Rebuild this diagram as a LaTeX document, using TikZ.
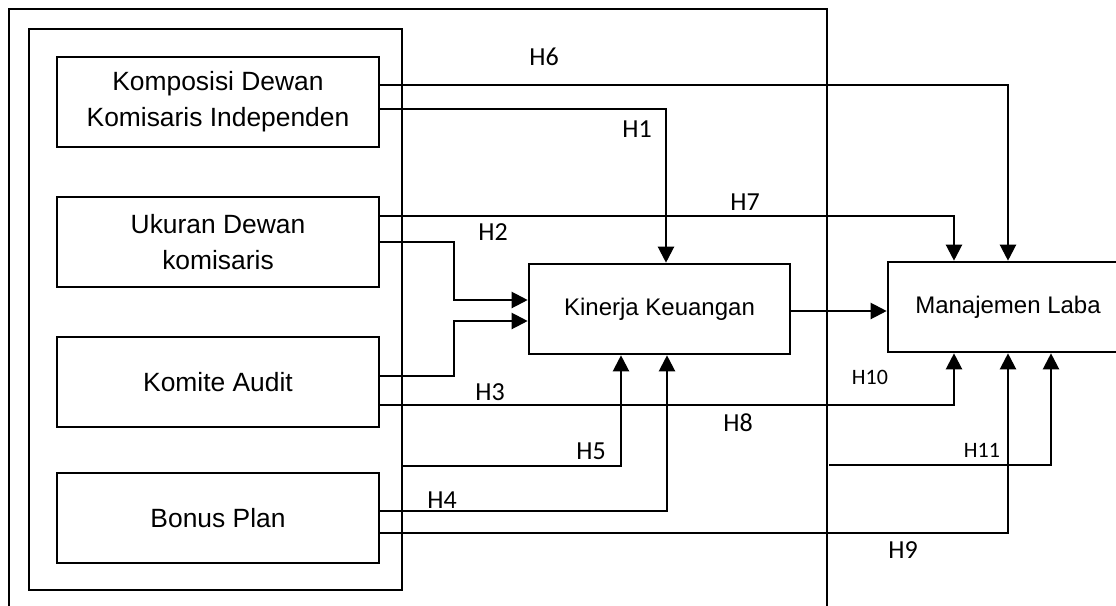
\documentclass[tikz,border=0pt]{standalone}
\usepackage{fontspec}
\setmainfont{Liberation Sans}
\newfontfamily\hypfont{Carlito}
\usetikzlibrary{arrows.meta}

\begin{document}
\begin{tikzpicture}[x=0.5pt,y=-0.5pt,
        varbox/.style={draw,line width=1.3pt,minimum width=161pt,minimum height=45pt,inner sep=0pt,align=center,font=\fontsize{13.2}{18}\selectfont},
        depbox/.style={draw,line width=1.3pt,minimum height=45pt,inner sep=0pt,font=\fontsize{12}{16}\selectfont},
        conn/.style={line width=1.1pt,-{Triangle[length=8pt,width=8pt]}},
        hlab/.style={font=\hypfont\fontsize{13}{15}\selectfont,inner sep=0pt},
        hlabsmall/.style={font=\hypfont\fontsize{11}{12}\selectfont,inner sep=0pt}]
        \useasboundingbox (0,0) rectangle (1116,606);

        \draw[line width=1.2pt] (9,620) -- (9,9) -- (827,9) -- (827,620);
        \node[draw,line width=1pt,minimum width=186.5pt,minimum height=280.5pt,inner sep=0pt] (grp) at (215.5,309.5) {};

        \node[varbox] (kdki) at (218,102) {Komposisi Dewan\\Komisaris Independen};
        \node[varbox] (udk) at (218,242) {Ukuran Dewan\\komisaris};
        \node[varbox] (ka) at (218,382) {Komite Audit};
        \node[varbox] (bp) at (218,518) {Bonus Plan};
        \node[depbox,minimum width=130.5pt] (kk) at (659.5,309) {Kinerja Keuangan};
        \node[depbox,minimum width=120pt] (mlaba) at (1008,307) {Manajemen Laba};

        \draw[conn] (kdki.east |- 0,85) -| (1008,0 |- mlaba.north);
        \draw[conn] (kdki.east |- 0,109) -| (666,0 |- kk.north);
        \draw[conn] (udk.east |- 0,216) -| (954,0 |- mlaba.north);
        \draw[conn] (udk.east |- 0,242) -| (454,300) -- (kk.west |- 0,300);
        \draw[conn] (ka.east |- 0,376) -| (454,321) -- (kk.west |- 0,321);
        \draw[conn] (ka.east |- 0,405) -| (954,0 |- mlaba.south);
        \draw[conn] (grp.east |- 0,466) -| (621,0 |- kk.south);
        \draw[conn] (bp.east |- 0,511) -| (667,0 |- kk.south);
        \draw[conn] (bp.east |- 0,533) -| (1008,0 |- mlaba.south);
        \draw[conn] (kk.east |- 0,311) -- (mlaba.west |- 0,311);
        \coordinate (h11start) at (829,465);
        \draw[conn] (h11start) -| (1051,0 |- mlaba.south);

        \node[hlab] (h6) at (544,57) {H6};
        \node[hlab] (h1) at (637,129) {H1};
        \node[hlab] (h7) at (745,202) {H7};
        \node[hlab] (h2) at (493,232) {H2};
        \node[hlab] (h3) at (490,392) {H3};
        \node[hlabsmall] (h10) at (870,377) {H10};
        \node[hlab] (h8) at (738,423) {H8};
        \node[hlab] (h5) at (591,451) {H5};
        \node[hlabsmall] (h11) at (982,450) {H11};
        \node[hlab] (h4) at (442,500) {H4};
        \node[hlab] (h9) at (903,550) {H9};
    \end{tikzpicture}
\end{document}
